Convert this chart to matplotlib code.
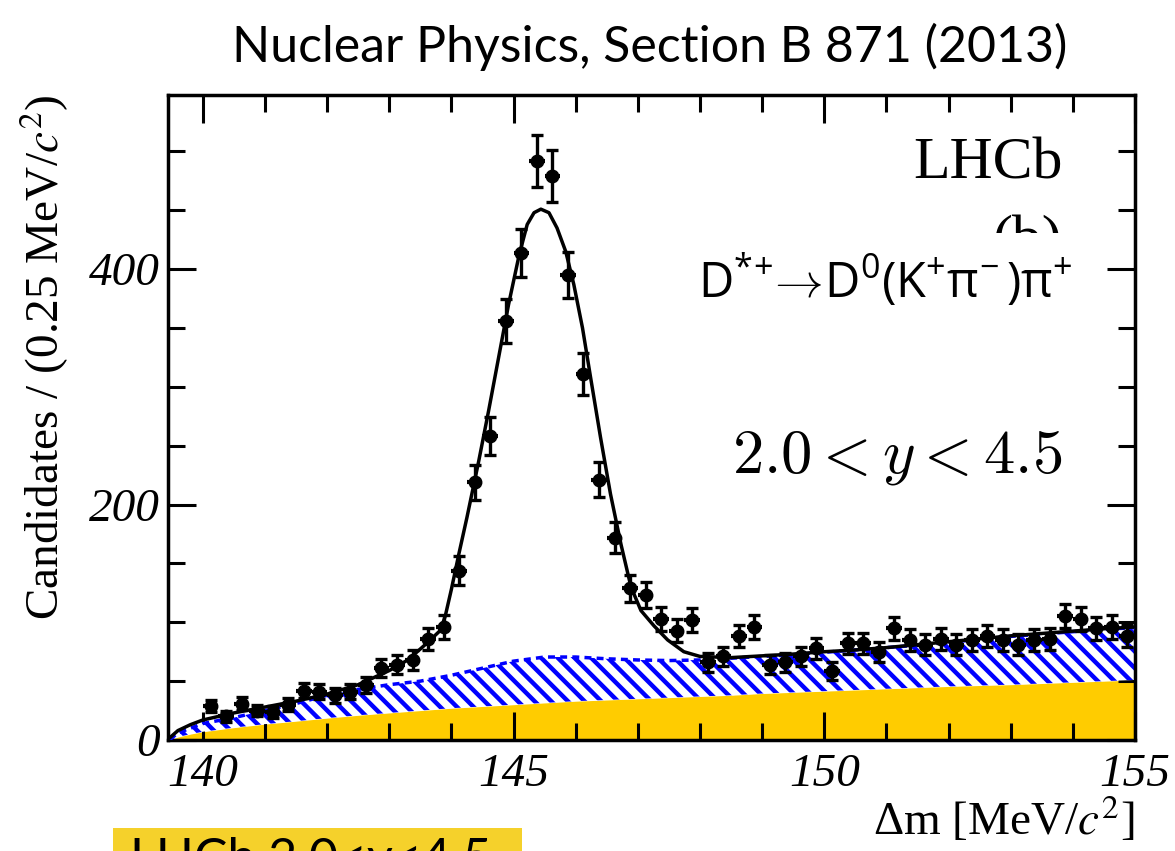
import numpy as np
import matplotlib.pyplot as plt
from matplotlib.ticker import MultipleLocator
from matplotlib.patches import Rectangle

plt.rcParams['mathtext.fontset'] = 'custom'
plt.rcParams['mathtext.rm'] = 'Open Sans'
plt.rcParams['mathtext.it'] = 'Open Sans:italic'
plt.rcParams['hatch.linewidth'] = 3.2

# data points: D*+ -> D0(K+ pi-) pi+, 0.25 MeV bins from 140 to 155
bin_lo, bin_hi, bin_w = 140.0, 155.0, 0.25
counts = [29, 20, 31, 25, 24, 30, 42, 41, 38, 41,
          47, 61, 64, 68, 86, 96, 144, 219, 258, 356,
          414, 492, 479, 395, 311, 221, 172, 129, 123, 103,
          93, 102, 66, 71, 88, 96, 64, 66, 71, 78,
          59, 82, 82, 75, 95, 85, 81, 86, 81, 85,
          88, 85, 81, 85, 86, 105, 103, 95, 96, 88]

# total fit curve
fit_x = [139.47, 139.6, 139.8, 140.0, 140.5, 141.0, 141.5, 142.0, 142.5, 143.0,
         143.3, 143.6, 143.82, 143.9, 144.0, 144.12, 144.25, 144.44, 144.6, 144.76,
         144.92, 145.09, 145.22, 145.33, 145.44, 145.57, 145.7, 145.84, 145.97, 146.11,
         146.24, 146.4, 146.56, 146.73, 146.89, 147.05, 147.26, 147.48, 147.74, 148.0,
         148.5, 149.0, 149.5, 150.0, 150.5, 151.0, 151.5, 152.0, 152.5, 153.0,
         153.5, 154.0, 154.5, 155.0]
fit_y = [2, 8, 13, 17, 23, 28, 33, 39, 47, 59,
         68, 82, 93, 105, 128, 158, 189, 237, 280, 325,
         370, 412, 438, 448, 451, 448, 435, 415, 387, 350,
         308, 257, 209, 166, 130, 110, 97, 85, 75, 71,
         70, 71.5, 73, 75, 76.5, 78.5, 81, 83.5, 86, 88.5,
         90.5, 92.5, 94.5, 96]

# background components
bkg_x = [139.47, 139.6, 139.8, 140.0, 140.5, 141.0, 141.5, 142.0, 142.5, 143.0,
         143.5, 144.0, 144.5, 145.0, 145.5, 146.0, 146.5, 147.0, 147.5, 148.0,
         148.5, 149.0, 149.5, 150.0, 150.5, 151.0, 151.5, 152.0, 152.5, 153.0,
         153.5, 154.0, 154.5, 155.0]
comb_y = [0, 2.5, 5, 7, 10.5, 13.5, 16, 18.6, 21, 23,
          25, 27, 28.5, 30, 31.5, 33, 34, 35, 36, 37,
          38, 39.5, 40.5, 41.5, 42.5, 43.5, 44.5, 45.5, 46.3, 47,
          48, 49, 50, 51]
bkg_y = [0.5, 6, 10, 14, 19, 25, 31, 38, 43, 47,
         50, 55, 61, 67, 70.5, 70.5, 69, 68, 67.5, 68,
         69.5, 71, 72.5, 74.5, 76.5, 78.5, 80.5, 83, 85.5, 88,
         90, 92, 94, 95.5]

dm = np.arange(bin_lo, bin_hi, bin_w) + bin_w / 2
counts = np.array(counts)

fig = plt.figure(figsize=(11.75, 8.51), dpi=100)
ax = fig.add_axes([168/1175, 111/851, 967/1175, 645/851])

ax.fill_between(bkg_x, 0, comb_y, color='#FFCC00', lw=0, zorder=1)
ax.fill_between(bkg_x, comb_y, bkg_y, facecolor='white', edgecolor='#0000FF',
                hatch='\\\\', lw=0, zorder=2)
ax.plot(bkg_x, bkg_y, color='#0000FF', ls=(0, (2, 1.5)), lw=2.5, zorder=3)
ax.plot(fit_x, fit_y, color='black', lw=2.5, zorder=4)

ax.errorbar(dm, counts, xerr=bin_w / 2, fmt='none', ecolor='black',
            elinewidth=3.0, zorder=5)
ax.errorbar(dm, counts, yerr=np.sqrt(counts), fmt='o', color='black', ms=9,
            elinewidth=2.4, capsize=4.5, capthick=2.4, zorder=6)

ax.set_xlim(139.44, 155.0)
ax.set_ylim(0, 548)
ax.set_xticks([140, 145, 150, 155])
ax.xaxis.set_minor_locator(MultipleLocator(1))
ax.yaxis.set_major_locator(MultipleLocator(200))
ax.yaxis.set_minor_locator(MultipleLocator(50))
ax.tick_params(which='both', direction='in', top=True, right=True, width=2.2)
ax.tick_params(which='major', length=20)
ax.tick_params(which='minor', length=12)
ax.tick_params(axis='x', pad=10)
ax.tick_params(axis='y', pad=6)
for lab in ax.get_xticklabels() + ax.get_yticklabels():
    lab.set_fontfamily('Liberation Serif')
    lab.set_fontstyle('italic')
    lab.set_fontsize(34)
for sp in ax.spines.values():
    sp.set_linewidth(2.5)

ax.set_xlabel('\u0394m [MeV/$c^{2}$]', fontsize=34, family='Liberation Serif',
              math_fontfamily='stix', loc='right')
ax.xaxis.set_label_coords(1.0, -0.085)
ax.set_ylabel('Candidates / (0.25 MeV/$c^{2}$)', fontsize=34, family='Liberation Serif',
              math_fontfamily='stix', loc='top')
ax.yaxis.set_label_coords(-0.10, 1.0)

ax.text(0.925, 0.87, 'LHCb', transform=ax.transAxes, ha='right', va='baseline',
        fontsize=43, family='Liberation Serif', zorder=7)
ax.text(0.925, 0.75, '(b)', transform=ax.transAxes, ha='right', va='baseline',
        fontsize=43, family='Liberation Serif', zorder=7)
ax.text(0.925, 0.415, r'$2.0 < y < 4.5$', transform=ax.transAxes, ha='right',
        va='baseline', fontsize=45, math_fontfamily='cm', zorder=7)

# white label box covering the lower part of "(b)"
fig.patches.append(Rectangle((690/1175, 1 - 320/851), 400/1175, 87/851,
                             transform=fig.transFigure, facecolor='white',
                             edgecolor='none', zorder=8))
fig.text(698/1175, 1 - 298/851, r'$\mathrm{D^{*\!+}\!\!\rightarrow\! D^{0}(K^{+}\pi^{\!-})\pi^{+}}$',
         fontsize=35, ha='left', va='baseline', zorder=9)

fig.text(650/1175, 1 - 62/851, 'Nuclear Physics, Section B 871 (2013)',
         fontsize=36, family='Lato', ha='center', va='baseline')

# yellow caption box cut off at the bottom edge
fig.patches.append(Rectangle((113/1175, 0), 409/1175, 23/851,
                             transform=fig.transFigure, facecolor='#F5D12B',
                             edgecolor='none'))
fig.text(130/1175, 1 - 874/851, 'LHCb 2.0<y<4.5', fontsize=36, family='Lato',
         ha='left', va='baseline')

fig.savefig('out.png', dpi=100)
